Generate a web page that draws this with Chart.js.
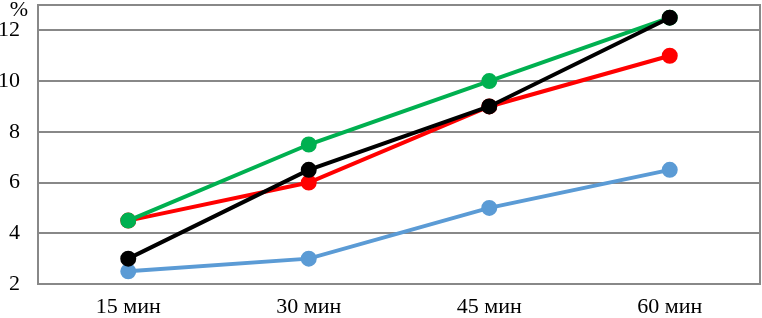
<!DOCTYPE html>
<html><head><meta charset="utf-8">
<script src="https://cdn.jsdelivr.net/npm/chart.js@4"></script>
<style>html,body{margin:0;padding:0;background:#fff;overflow:hidden}#wrap{width:762px;height:318px;position:relative}canvas{display:block}</style>
</head><body><div id="wrap"><canvas id="c"></canvas></div>
<script>
const categories = ['15 мин', '30 мин', '45 мин', '60 мин'];
const blackSeries = [3, 6.5, 9, 12.5];
const greenSeries = [4.5, 7.5, 10, 12.5];
const redSeries = [4.5, 6, 9, 11];
const blueSeries = [2.5, 3, 5, 6.5];
const yUnit = '%';

const FONT = "'Liberation Serif', 'Times New Roman', serif";
const GRID = '#888888';
const mk = (data, color) => ({data, borderColor: color, backgroundColor: color, pointBackgroundColor: color, pointBorderColor: color, borderWidth: 4, pointRadius: 6, pointHoverRadius: 6, tension: 0});

const boxPlugin = {
  id: 'box',
  afterDraw(chart) {
    const {ctx, chartArea: a} = chart;
    ctx.save();
    ctx.strokeStyle = GRID; ctx.lineWidth = 2;
    ctx.strokeRect(Math.round(a.left), Math.round(a.top), Math.round(a.right - a.left), Math.round(a.bottom - a.top));
    ctx.fillStyle = '#000'; ctx.font = "22px " + FONT;
    ctx.textAlign = 'right'; ctx.textBaseline = 'top';
    ctx.fillText(yUnit, a.left - 10, a.top - 6);
    ctx.restore();
  }
};

new Chart(document.getElementById('c'), {
  type: 'line',
  data: {labels: categories, datasets: [mk(blackSeries, '#000000'), mk(greenSeries, '#00B050'), mk(redSeries, '#FF0000'), mk(blueSeries, '#5B9BD5')]},
  options: {
    responsive: true, maintainAspectRatio: false, animation: false,
    layout: {autoPadding: false, padding: {top: 0, right: 2, left: 0, bottom: 0}},
    plugins: {legend: {display: false}, tooltip: {enabled: false}},
    scales: {
      x: {offset: true, grid: {display: false}, border: {color: GRID, width: 2},
          ticks: {color: '#000', font: {family: FONT, size: 22}, padding: 2, autoSkip: false, maxRotation: 0},
          afterFit: s => { s.height = 34; s.paddingLeft = 0; s.paddingRight = 0; }},
      y: {min: 2, max: 13, grid: {color: GRID, lineWidth: 2, drawTicks: false}, border: {color: GRID, width: 2},
          ticks: {stepSize: 2, color: '#000', font: {family: FONT, size: 22}, padding: 18, autoSkip: false,
                  callback: v => (v % 2 === 0 ? v : '')},
          afterFit: s => { s.width = 38; s.paddingTop = 5; s.paddingBottom = 0; }}
    }
  },
  plugins: [boxPlugin]
});
</script></body></html>
